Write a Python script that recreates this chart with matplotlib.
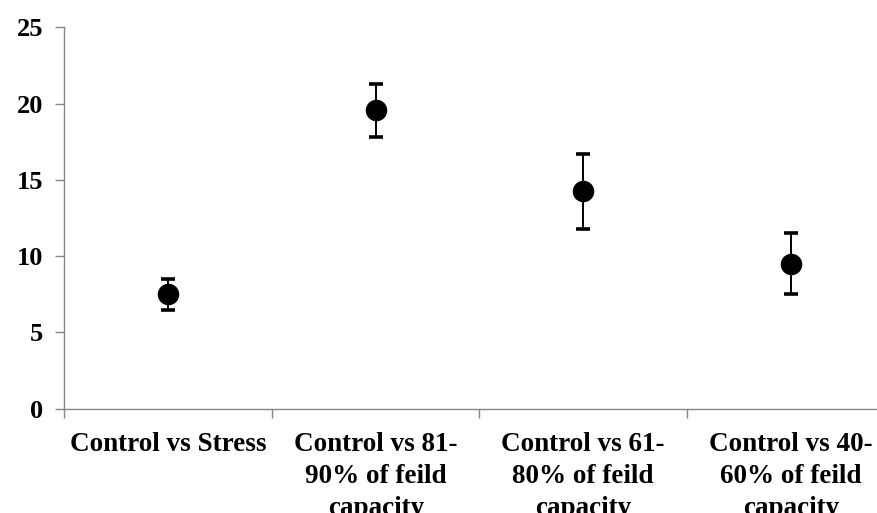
import matplotlib
matplotlib.use("Agg")
import matplotlib.pyplot as plt
import numpy as np

categories = [
    "Control vs Stress",
    "Control vs 81-\n90% of feild\ncapacity",
    "Control vs 61-\n80% of feild\ncapacity",
    "Control vs 40-\n60% of feild\ncapacity",
]
means = [7.5, 19.55, 14.25, 9.5]
errors = [1.0, 1.75, 2.45, 2.0]
y_ticks = [0, 5, 10, 15, 20, 25]

plt.rcParams["font.family"] = ["Liberation Serif", "DejaVu Serif"]
plt.rcParams["font.weight"] = "bold"

fig = plt.figure(figsize=(8.77, 5.13), dpi=100)
ax = fig.add_axes([0.0735, 0.2033, 0.9464, 0.7435])

x = np.arange(len(categories))
ax.errorbar(x, means, yerr=errors, fmt="o", color="black", ecolor="black",
            markersize=14.5, elinewidth=1.4, capsize=5, capthick=2.6, zorder=3)

ax.set_xlim(-0.5, len(categories) - 0.5)
ax.set_ylim(0, 25)
ax.set_yticks(y_ticks)
ax.set_yticklabels([str(v) for v in y_ticks], fontsize=19, fontweight="bold")

ax.set_xticks(x)
ax.set_xticklabels(categories, fontsize=19.5, fontweight="bold", linespacing=1.36)
ax.set_xticks(np.arange(-0.5, len(categories), 1.0), minor=True)
ax.tick_params(axis="x", which="major", length=0, pad=17)
ax.tick_params(axis="x", which="minor", length=6.5, width=1, color="#868686")
ax.tick_params(axis="y", which="major", length=6.5, width=1, color="#868686", pad=9)

for side in ("top", "right"):
    ax.spines[side].set_visible(False)
for side in ("left", "bottom"):
    ax.spines[side].set_color("#868686")
    ax.spines[side].set_linewidth(1)

fig.savefig("out.png", dpi=100)
